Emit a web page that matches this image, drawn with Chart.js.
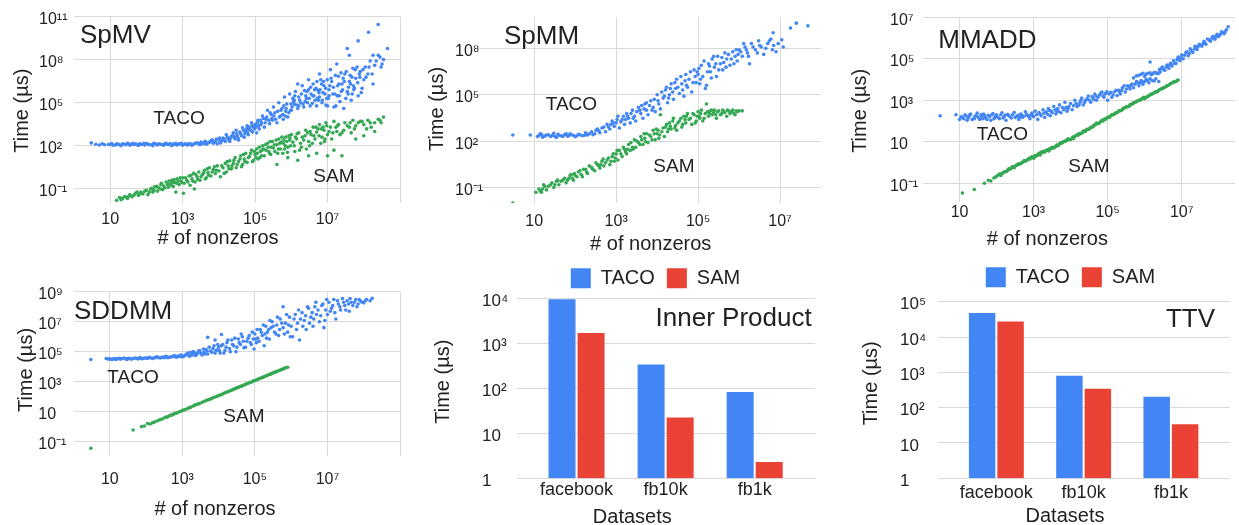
<!DOCTYPE html>
<html>
<head>
<meta charset="utf-8">
<title>TACO vs SAM runtimes</title>
<script src="https://cdn.jsdelivr.net/npm/chart.js@4.4.1/dist/chart.umd.min.js"></script>
<style>
  html, body { margin: 0; padding: 0; background: #fff; }
  #page { position: relative; width: 1239px; height: 525px; overflow: hidden; }
  #page canvas { position: absolute; }
</style>
</head>
<body>
<div id="page">
  <canvas id="spmv"></canvas>
  <canvas id="spmm"></canvas>
  <canvas id="mmadd"></canvas>
  <canvas id="sddmm"></canvas>
  <canvas id="inner"></canvas>
  <canvas id="ttv"></canvas>
</div>
<script>
const FONT = '"Liberation Sans", Arial, Helvetica, sans-serif';
const INK = '#222';
const BLUE = '#4285f4';
const GREEN = '#34a853';
const RED = '#ea4335';
const GRID = '#d9d9d9';

// ---- scatter data: [nonzeros, time in us] ----
const spmvTaco = [
  [3,160],[7,120],[10,130],[12,110],[15,140],[18,120],[20,100],[25,130],[30,150],[35,110],[45,125],[50,140],[60,105],[70,130],[90,115],[100,145],[120,120],[150,100],[180,135],[200,115],[250,130],[300,110],[350,150],[400,120],[500,100],[550,135],[700,115],[800,140],[1e3,110],[1.1e3,130],[1.3e3,120],[1.5e3,145],[1.8e3,110],[2e3,130],[2.5e3,160],[3e3,120],[3.5e3,140],[4e3,180],[4.5e3,130],[5e3,160],[6e3,220],[7e3,150],[8e3,200],[9e3,140],
  [4,130],[5,115],[6,140],[9,125],[11,145],[14,115],[17,130],[22,140],[27,120],[33,135],[38,125],[42,150],[55,120],[65,140],[75,125],[85,150],[110,135],[140,120],[160,150],[220,140],[270,120],[320,140],[380,130],[450,145],[600,125],[650,150],[750,130],[900,150],[1.2e3,140],[1.4e3,115],[1.7e3,135],[2.2e3,150],[2.8e3,140],[3.2e3,180],[3.8e3,150],[4.2e3,210],[5.5e3,180],[6.5e3,260],[7.5e3,190],[8.5e3,300],
  [1e4,250],[1.1e4,160],[1.3e4,350],[1.5e4,200],[1.6e4,600],[1.8e4,300],[2e4,200],[2.2e4,450],[2.5e4,800],[2.8e4,300],[3e4,1.2e3],[3.2e4,500],[3.5e4,250],[4e4,700],[4.5e4,1.8e3],[5e4,400],[5.5e4,1e3],[6e4,2.5e3],[6.5e4,600],[7e4,1.5e3],[8e4,4e3],[8.5e4,900],[9e4,2e3],
  [1.05e4,350],[1.2e4,220],[1.4e4,280],[1.7e4,400],[1.9e4,250],[2.1e4,330],[2.4e4,550],[2.7e4,400],[3.1e4,700],[3.4e4,350],[3.8e4,900],[4.2e4,500],[4.8e4,1.2e3],[5.2e4,700],[5.8e4,1.5e3],[6.2e4,900],[6.8e4,2e3],[7.5e4,1.2e3],[8.2e4,2.5e3],[9.5e4,1.5e3],
  [1e5,3e3],[1.1e5,800],[1.2e5,6e3],[1.3e5,1.5e3],[1.5e5,4e3],[1.6e5,1.2e4],[1.8e5,2e3],[2e5,7e3],[2.2e5,3e4],[2.5e5,3.5e3],[2.8e5,1.5e4],[3e5,6e3],[3.2e5,5e4],[3.5e5,2e4],[4e5,4e3],[4.5e5,1e5],[5e5,1.2e4],[5.5e5,4e4],[6e5,7e3],[6.5e5,2.5e5],[7e5,2.5e4],[7.5e5,8e4],[8e5,1e4],[9e5,4e5],[9.5e5,3e4],
  [1.05e5,2e3],[1.15e5,4e3],[1.25e5,2.5e3],[1.4e5,6e3],[1.45e5,3e3],[1.7e5,8e3],[1.9e5,4e3],[2.1e5,1e4],[2.4e5,6e3],[2.6e5,2e4],[2.9e5,8e3],[3.3e5,1.2e4],[3.7e5,7e3],[4.2e5,2.5e4],[4.7e5,1e4],[5.2e5,3e4],[5.8e5,1.5e4],[6.2e5,6e4],[6.8e5,1.2e4],[7.2e5,4e4],[8.5e5,2e4],[9.8e5,8e4],
  [1e6,3e4],[1.1e6,2e5],[1.2e6,8e4],[1.3e6,6e5],[1.5e6,4e4],[1.6e6,2.5e5],[1.8e6,1e5],[2e6,1.5e6],[2.2e6,5e4],[2.5e6,3e5],[2.8e6,1e5],[3e6,8e5],[3.3e6,6e4],[3.5e6,4e5],[4e6,2e6],[4.5e6,1.5e5],[5e6,6e4],[5.5e6,7e5],[6e6,2.5e5],[6.5e6,4e6],[7e6,1e5],[7.5e6,5e5],[8e6,1.5e6],[9e6,7e4],[1.5e6,2e6],[3e6,4e6],[6e6,1e7],
  [1.05e6,5e4],[1.15e6,1.2e5],[1.25e6,3e5],[1.4e6,7e4],[1.7e6,1.5e5],[1.9e6,4e5],[2.1e6,8e4],[2.4e6,1.2e5],[2.7e6,6e5],[3.1e6,2e5],[3.8e6,9e4],[4.2e6,3e5],[4.8e6,1e6],[5.2e6,2e5],[5.8e6,5e5],[6.8e6,2e6],[7.2e6,1.5e5],[8.5e6,4e5],[9.5e6,2e5],
  [1.2e6,1.5e5],[1.6e6,6e4],[2.3e6,7e5],[2.6e6,2e5],[3.4e6,1.2e6],[3.9e6,3e5],[4.4e6,8e5],[5.1e6,3e6],[5.6e6,1.5e5],[6.2e6,8e5],[7.8e6,3e6],[8.8e6,1e6],[9.8e6,4e6],
  [1e7,6e4],[1.1e7,8e5],[1.2e7,2e7],[1.3e7,3e6],[1.5e7,5e4],[1.6e7,4e5],[1.8e7,5e7],[2e7,7e6],[2.2e7,1.2e5],[2.5e7,2e6],[2.8e7,4e4],[3e7,1e7],[3.5e7,6e5],[4e7,3e6],[4.5e7,1.5e5],[5e7,2.5e7],[5.5e7,1e6],[6e7,5e6],[7e7,3e5],[8e7,1.5e7],[9e7,1e6],
  [1.05e7,2e5],[1.15e7,1.5e6],[1.4e7,4e5],[1.7e7,6e4],[1.9e7,1.5e6],[2.1e7,3e5],[2.4e7,6e5],[2.7e7,5e6],[3.2e7,2e5],[3.8e7,1.2e6],[4.2e7,8e6],[4.8e7,4e5],[5.2e7,1.5e6],[6.5e7,3e7],[7.5e7,1e7],[8.5e7,5e5],
  [1.1e7,3e5],[1.25e7,5e6],[1.45e7,1.2e6],[1.65e7,8e6],[1.85e7,3e5],[2.05e7,2e6],[2.35e7,1.2e7],[2.6e7,8e5],[2.9e7,3e6],[3.3e7,1.5e7],[3.7e7,4e5],[4.3e7,2e6],[4.7e7,6e6],[5.3e7,8e5],[5.8e7,2e7],[6.8e7,2.5e6],[7.8e7,6e6],[9.5e7,2e7],
  [1e8,4e6],[1.1e8,3e7],[1.3e8,1e7],[1.5e8,8e7],[1.8e8,2e6],[2e8,4e7],[2.5e8,2e8],[3e8,3e7],[3.5e8,1e8],[4.5e8,6e8],
  [1.15e8,6e6],[1.4e8,3e7],[1.7e8,1e7],[2.2e8,8e7],[2.8e8,1.5e8],[3.2e8,5e7],
  [2.5e8,2.8e10],[1.35e8,8e9],[7e7,2e9],[3.5e7,6e8],[4e7,2e8],[1.8e8,2e8]
];
const spmvSam = [
  [15,1.6e-2],[18,2.5e-2],[20,1.8e-2],[25,3e-2],[30,2.2e-2],[35,4e-2],[40,2.8e-2],[50,5e-2],[60,3.5e-2],[70,6e-2],[80,4.5e-2],[100,8e-2],[110,4e-2],[130,1e-1],[150,6e-2],[170,1.4e-1],[200,7e-2],[220,1.2e-1],[250,2e-1],[280,9e-2],[300,1.6e-1],[350,3e-1],[400,1.3e-1],[450,2.2e-1],[500,4e-1],[550,1.5e-1],[600,2.8e-1],[650,6e-2],[700,5e-1],[800,2e-1],[900,3.5e-1],
  [22,2.2e-2],[28,2.6e-2],[33,3.2e-2],[45,3.6e-2],[55,6e-2],[65,4.5e-2],[90,7e-2],[120,6e-2],[140,1.1e-1],[160,8e-2],[190,1.5e-1],[240,1e-1],[260,2.5e-1],[320,1.2e-1],[380,2e-1],[420,3.5e-1],[480,1.8e-1],[520,2.8e-1],[580,4.5e-1],[680,2.5e-1],[750,3.5e-1],[850,6e-1],[950,2.8e-1],
  [1e3,6e-1],[1.05e3,5e-2],[1.1e3,2.5e-1],[1.3e3,4e-1],[1.5e3,8e-1],[1.6e3,1.8e-1],[1.8e3,5e-1],[2e3,1.2],[2.1e3,1e-1],[2.2e3,3e-1],[2.5e3,7e-1],[2.8e3,1.5],[3e3,4e-1],[3.5e3,1],[4e3,2],[4.5e3,6e-1],[5e3,1.4],[5.5e3,3],[6e3,8e-1],[7e3,2.2],[8e3,1.2],[9e3,4],
  [1.2e3,6e-1],[1.4e3,3e-1],[1.7e3,9e-1],[1.9e3,3.5e-1],[2.3e3,1],[2.6e3,4.5e-1],[3.2e3,7e-1],[3.8e3,1.3],[4.2e3,5e-1],[4.8e3,2.5],[5.2e3,9e-1],[6.5e3,1.5],[7.5e3,3.5],[8.5e3,2],
  [1e4,1.8],[1.1e4,7e-1],[1.3e4,3],[1.5e4,6],[1.6e4,1.5],[1.8e4,4],[2e4,9],[2.2e4,2.5],[2.5e4,6],[2.8e4,15],[3e4,3],[3.5e4,8],[4e4,20],[4.5e4,5],[5e4,12],[5.5e4,30],[6e4,7],[7e4,18],[8e4,50],[9e4,10],
  [1.2e4,4],[1.4e4,1.2],[1.7e4,8],[1.9e4,2.5],[2.3e4,4],[2.6e4,10],[3.2e4,5],[3.8e4,12],[4.2e4,3.5],[4.8e4,25],[5.2e4,8],[6.5e4,15],[7.5e4,30],[8.5e4,8],[9.5e4,40],
  [1e5,25],[1.1e5,60],[1.2e5,12],[1.4e5,40],[1.6e5,100],[1.8e5,20],[2e5,50],[2.2e5,150],[2.5e5,30],[2.8e5,80],[3e5,200],[3.5e5,40],[4e5,120],[4e5,5],[4.5e5,300],[5e5,60],[6e5,150],[7e5,400],[8e5,80],[8e5,15],[9e5,250],
  [1.05e5,15],[1.3e5,80],[1.5e5,20],[1.7e5,60],[1.9e5,120],[2.4e5,40],[2.6e5,200],[3.2e5,70],[3.8e5,250],[4.2e5,30],[4.8e5,150],[5.5e5,400],[6.5e5,60],[7.5e5,200],[8.5e5,500],[9.5e5,100],
  [1.15e5,30],[1.35e5,15],[1.55e5,50],[2.3e5,80],[2.7e5,25],[3.4e5,120],[4.4e5,60],[5.2e5,180],[5.8e5,30],[6.2e5,250],[6.8e5,100],[7.8e5,35],[9.2e5,350],
  [1e6,600],[1.2e6,100],[1.4e6,300],[1.5e6,10],[1.6e6,800],[1.8e6,150],[2e6,400],[2.5e6,1.2e3],[3e6,200],[3e6,20],[3.5e6,600],[4e6,2e3],[4.5e6,300],[5e6,900],[5e6,30],[6e6,3e3],[7e6,400],[8e6,1.2e3],[9e6,4e3],
  [1.3e6,400],[1.7e6,50],[2.2e6,250],[2.8e6,800],[3.2e6,100],[4.2e6,500],[5.5e6,1.5e3],[6.5e6,150],[7.5e6,2e3],[8.5e6,300],
  [1.1e6,180],[1.25e6,40],[1.45e6,700],[1.9e6,80],[2.4e6,500],[2.6e6,60],[3.3e6,1e3],[3.8e6,150],[4.8e6,2e3],[5.8e6,500],[6.8e6,1.5e3],[8.2e6,200],[9.5e6,2.5e3],
  [1e7,600],[1e7,20],[1.2e7,2e3],[1.5e7,5e3],[1.5e7,50],[1.8e7,1e3],[2e7,3e3],[2.5e7,800],[2.5e7,20],[3e7,4e3],[4e7,2e3],[5e7,6e3],[6e7,2.5e3],[6e7,300],[8e7,5e3],[1e8,3e3],[1e8,500],[1.3e8,6e3],[1.6e8,2e3],[2e8,4e3],[2e8,1e3],[2.5e8,7e3],[3e8,4e3],[3.5e8,1e4],
  [1.1e7,1e3],[1.3e7,300],[1.7e7,2e3],[2.2e7,600],[3.5e7,2.5e3],[4.5e7,800],[7e7,4e3],[1.2e8,1.5e3],
  [1.4e7,800],[1.9e7,2.5e3],[2.8e7,1.2e3],[4.2e7,4e3],[5.5e7,1.5e3],[9e7,5e3],[1.5e8,4e3],[2.8e8,6e3]
];
const spmmTaco = [
  [3,250],[8,250],[12,200],[14,300],[16,180],[20,250],[25,200],[30,320],[35,170],[40,240],[50,200],[60,300],[70,220],[80,260],[100,190],[120,280],[150,220],[180,350],[200,250],[250,400],[300,300],
  [13,230],[15,280],[18,210],[22,260],[28,240],[32,200],[38,280],[45,220],[55,260],[65,210],[75,300],[90,240],[110,220],[130,260],[170,240],[220,300],[270,260],
  [350,600],[400,350],[500,800],[550,400],[600,1.2e3],[700,600],[800,2e3],[900,900],[1e3,1.5e3],[1.1e3,4e3],[1.2e3,700],[1.4e3,2.5e3],[1.6e3,1.2e3],[1.8e3,6e3],[2e3,3e3],[2.2e3,1.5e3],[2.5e3,1e4],[2.8e3,4e3],[3e3,2e3],[3.5e3,1.5e4],[4e3,6e3],[4.5e3,3e3],[5e3,2.5e4],[5.5e3,1e4],[6e3,5e3],[7e3,4e4],[8e3,1.5e4],[9e3,8e3],
  [320,500],[380,450],[450,700],[650,800],[750,1.2e3],[850,1.5e3],[1.05e3,2.5e3],[1.3e3,1.8e3],[1.5e3,4e3],[1.7e3,2.5e3],[1.9e3,4e3],[2.3e3,6e3],[2.6e3,3e3],[3.2e3,8e3],[3.8e3,1e4],[4.2e3,2e4],[4.8e3,1.2e4],[5.5e3,3e4],[6.5e3,2e4],[7.5e3,1e4],[8.5e3,5e4],
  [1e4,1e5],[1.1e4,2.5e4],[1.2e4,1.2e4],[1.4e4,6e4],[1.6e4,2e5],[1.8e4,3e4],[2e4,1e5],[2.2e4,5e5],[2.5e4,5e4],[2.8e4,2.5e5],[3e4,1e6],[3.5e4,1.2e5],[4e4,5e5],[4.5e4,8e4],[5e4,2e6],[5.5e4,3e5],[6e4,1e6],[7e4,1.5e5],[8e4,4e6],[9e4,6e5],
  [1.05e4,4e4],[1.3e4,1.5e5],[1.5e4,8e4],[1.7e4,3e5],[1.9e4,6e4],[2.1e4,2.5e5],[2.4e4,1.5e5],[2.7e4,6e5],[3.2e4,3e5],[3.8e4,1.5e6],[4.2e4,2e5],[4.8e4,8e5],[5.2e4,4e5],[6.5e4,3e6],[7.5e4,6e5],[8.5e4,1.5e6],[9.5e4,3e6],
  [1e5,2e6],[1.1e5,5e5],[1.2e5,8e6],[1.3e5,1.5e6],[1.5e5,2.5e5],[1.6e5,4e5],[1.8e5,1e7],[2e5,3e6],[2.2e5,2e7],[2.5e5,6e6],[2.8e5,1.5e6],[3e5,3e7],[3.5e5,1e7],[4e5,4e6],[4.5e5,5e7],[5e5,2e7],[6e5,8e6],[7e5,6e7],[8e5,3e7],[9e5,1.5e7],
  [1.05e5,5e6],[1.15e5,1e6],[1.4e5,1.5e7],[1.7e5,3e6],[1.9e5,7e6],[2.1e5,1.2e6],[2.4e5,3e7],[2.7e5,1e7],[3.2e5,4e6],[3.8e5,2.5e7],[4.2e5,1.2e7],[4.8e5,6e6],[5.5e5,4e7],[6.5e5,2e7],[7.5e5,1e7],[8.5e5,8e7],[9.5e5,4e7],
  [1e6,8e7],[1.2e6,3e7],[1.4e6,1.2e8],[1.6e6,5e7],[1.8e6,1e7],[2e6,2e8],[2.5e6,8e7],[3e6,3e8],[3.5e6,1.2e8],[4e6,4e7],[5e6,2e8],[6e6,4e8],[7e6,1.5e8],[8e6,6e7],
  [1.1e6,6e7],[1.3e6,2e8],[1.5e6,8e7],[1.7e6,3e7],[2.2e6,1.2e8],[2.8e6,5e7],[3.2e6,1.5e8],[4.5e6,1e8],[5.5e6,3e8],[6.5e6,8e7],[9e6,2e8],[1.2e7,1.2e8],
  [6.8e6,1e9],[1.1e7,3.5e8],[1.8e7,2e9],[2.5e7,4.2e9],[4.8e7,2.8e9]
];
const spmmSam = [
  [3,1e-2],[11,5e-2],[14,6e-2],[16,8e-2],[18,1.2e-1],[20,7e-2],[25,1.5e-1],[30,1e-1],[35,2.5e-1],[40,1.5e-1],[50,3e-1],[60,2e-1],[70,4e-1],[80,7e-1],[90,3e-1],[100,6e-1],[120,1],[150,5e-1],[180,1.5],[200,8e-1],[250,2],[300,1.2],[350,3],[400,1.8],
  [13,8e-2],[15,5e-2],[17,1.5e-1],[22,1.2e-1],[27,2e-1],[32,1.5e-1],[37,3e-1],[45,2.5e-1],[55,4e-1],[65,3e-1],[75,6e-1],[85,4e-1],[95,8e-1],[110,5e-1],[130,1.2],[140,7e-1],[160,1.5],[190,1],[220,2.5],[270,1.5],[320,4],[380,2.5],
  [450,5],[500,2.5],[600,6],[700,3],[800,10],[900,5],[1e3,15],[1.1e3,6],[1.2e3,25],[1.4e3,10],[1.6e3,30],[1.8e3,15],[2e3,60],[2.2e3,25],[2.5e3,40],[2.8e3,120],[3e3,40],[3.5e3,80],[4e3,200],[4.5e3,60],[5e3,150],[5.5e3,300],[6e3,80],[7e3,200],[8e3,500],[9e3,120],
  [420,3],[480,7],[550,4],[650,8],[750,5],[850,15],[950,8],[1.05e3,25],[1.3e3,15],[1.5e3,40],[1.7e3,20],[1.9e3,30],[2.3e3,80],[2.6e3,30],[3.2e3,100],[3.8e3,60],[4.2e3,120],[4.8e3,300],[5.2e3,90],[6.5e3,250],[7.5e3,120],[8.5e3,300],[9.5e3,600],
  [1e4,300],[1.1e4,150],[1.2e4,5e3],[1.3e4,400],[1.5e4,200],[1.6e4,800],[1.8e4,400],[2e4,1.5e3],[2.2e4,600],[2.5e4,3e3],[2.8e4,1e3],[3e4,500],[3.5e4,2e3],[4e4,800],[4.5e4,4e3],[5e4,1.5e3],[5.5e4,6e3],[6e4,2.5e3],[7e4,1.2e3],[8e4,5e3],[9e4,2e3],
  [1.05e4,500],[1.15e4,250],[1.4e4,700],[1.7e4,1.2e3],[1.9e4,600],[2.1e4,900],[2.4e4,2e3],[2.7e4,700],[3.2e4,1.5e3],[3.8e4,3e3],[4.2e4,1.2e3],[4.8e4,2.5e3],[5.2e4,4e3],[6.5e4,3e3],[7.5e4,6e3],[8.5e4,1.5e3],[9.5e4,4e3],
  [1e5,8e3],[1.1e5,3e3],[1.2e5,1e4],[1.3e5,2e3],[1.5e5,6e3],[1.6e5,2.5e4],[1.8e5,4e3],[2e5,9e3],[2.2e5,5e3],[2.5e5,1e4],[2.8e5,3e3],[3e5,8e3],[3.5e5,5e3],[4e5,1e4],[4.5e5,7e3],[5e5,4e3],[5.5e5,9e3],[6e5,6e3],[7e5,1e4],[8e5,5e3],[9e5,8e3],[1e6,9e3],[1.2e6,9e3],
  [1.05e5,4e3],[1.15e5,6e3],[1.4e5,3e3],[1.7e5,8e3],[1.9e5,6e3],[2.1e5,1e4],[2.4e5,7e3],[2.7e5,5e3],[3.2e5,9e3],[3.8e5,6e3],[4.2e5,8e3],[5.2e5,1e4],[6.5e5,8e3],[7.5e5,6e3],[8.5e5,9e3]
];
const mmaddTaco = [
  [3,180],[8,200],[10,120],[12,150],[14,200],[16,110],[18,160],[20,220],[25,130],[28,180],[30,240],[35,120],[40,170],[45,220],[50,140],[60,190],[70,110],[80,230],[90,150],[100,200],[120,130],[140,250],[160,160],[180,110],[200,210],[250,140],[300,260],[350,170],[400,120],[450,220],[500,150],[600,280],[700,180],[800,130],[900,240],
  [11,160],[13,130],[15,180],[17,140],[19,200],[22,120],[26,170],[32,150],[38,200],[42,130],[48,180],[55,120],[65,160],[75,200],[85,130],[95,170],[110,150],[130,200],[150,140],[170,190],[220,170],[270,200],[320,150],[380,190],[420,160],[480,190],[550,170],[650,210],[750,160],[850,200],[950,180],
  [1e3,160],[1.1e3,300],[1.3e3,120],[1.5e3,220],[1.8e3,350],[2e3,150],[2.2e3,280],[2.5e3,400],[2.8e3,180],[3e3,300],[3.5e3,500],[4e3,220],[4.5e3,400],[5e3,600],[5.5e3,250],[6e3,450],[7e3,800],[8e3,300],[9e3,500],
  [1.2e3,200],[1.4e3,260],[1.6e3,180],[1.9e3,240],[2.4e3,210],[2.7e3,320],[3.2e3,250],[3.8e3,350],[4.2e3,300],[4.8e3,280],[6.5e3,350],[7.5e3,450],[8.5e3,400],
  [1e4,700],[1.1e4,350],[1.3e4,1e3],[1.5e4,500],[1.8e4,800],[2e4,1.3e3],[2.2e4,600],[2.5e4,1e3],[3e4,1.6e3],[3.5e4,800],[4e4,1.3e3],[4.5e4,2e3],[5e4,1e3],[6e4,1.8e3],[7e4,2.5e3],[8e4,1.4e3],[9e4,2.2e3],
  [1.2e4,550],[1.4e4,700],[1.7e4,600],[1.9e4,1e3],[2.4e4,800],[2.8e4,1.2e3],[3.2e4,1e3],[3.8e4,1.5e3],[4.2e4,1.1e3],[4.8e4,1.6e3],[5.5e4,1.4e3],[6.5e4,2.2e3],[7.5e4,1.6e3],[8.5e4,2e3],[9.5e4,2.6e3],
  [1e5,1e3],[1.1e5,2e3],[1.3e5,1.4e3],[1.5e5,2.5e3],[1.8e5,1.7e3],[2e5,3e3],[2.2e5,2e3],[2.5e5,4e3],[3e5,2.5e3],[3.5e5,5e3],[4e5,3.5e3],[4.5e5,6e3],[5e5,4e3],[6e5,8e3],[7e5,5e3],[8e5,9e3],[9e5,6e3],[1.1e6,1e4],[1.3e6,7e3],[1.6e6,9e3],[2e6,1.1e4],[2.4e6,8e3],
  [1.2e5,2.4e3],[1.4e5,1.8e3],[1.7e5,3e3],[2.1e5,2.5e3],[2.4e5,3e3],[2.8e5,5e3],[3.2e5,3.5e3],[3.8e5,4.5e3],[4.2e5,5e3],[5.5e5,6e3],[6.5e5,7e3],[7.5e5,7e3],[8.5e5,7.5e3],[1e6,8e3],[1.2e6,9e3],[1.4e6,1.1e4],[1.8e6,8.5e3],
  [5e5,1.2e4],[6e5,1.5e4],[8e5,1.8e4],[1e6,1.4e4],[1.2e6,2e4],[1.5e6,1.7e4],[1.8e6,2.2e4],[2.2e6,1.9e4],[2.6e6,2.3e4],[1.4e6,7e4],
  [7e5,1.6e4],[9e5,2e4],[1.1e6,1.8e4],[1.4e6,2.1e4],[1.7e6,1.9e4],[2e6,2.2e4],[2.4e6,2e4],
  [2.5e6,3e4],[3e6,4e4],[3.5e6,2.8e4],[4e6,5e4],[4.5e6,3.5e4],[5e6,6e4],[5.5e6,4.5e4],[6e6,8e4],[7e6,6e4],[8e6,1.2e5],[9e6,8e4],
  [2.8e6,3.5e4],[3.2e6,3e4],[3.8e6,4e4],[4.2e6,4.2e4],[4.8e6,5e4],[5.2e6,5.5e4],[6.5e6,6e4],[7.5e6,9e4],[8.5e6,1e5],[9.5e6,1.1e5],
  [1e7,1.5e5],[1.1e7,1e5],[1.3e7,2e5],[1.5e7,1.4e5],[1.7e7,3e5],[2e7,2e5],[2.3e7,4e5],[2.6e7,2.8e5],[3e7,5e5],
  [1.2e7,1.5e5],[1.4e7,2.2e5],[1.6e7,1.8e5],[1.8e7,2.5e5],[2.2e7,3e5],[2.5e7,3.5e5],[2.8e7,4e5],[3.2e7,4.5e5],[3.8e7,5.5e5],[4.2e7,6e5],[5.5e7,8e5],[6.5e7,1e6],[7.5e7,9e5],[8.5e7,1.2e6],[1.1e8,1.5e6],[1.3e8,1.8e6],[1.5e8,2e6],
  [3.5e7,4e5],[4e7,7e5],[4.5e7,5e5],[5e7,9e5],[6e7,7e5],[7e7,1.2e6],[8e7,9e5],[9e7,1.5e6],[1e8,1.2e6],[1.2e8,2e6],[1.4e8,1.6e6],[1.6e8,2.5e6],[1.8e8,3.5e6]
];
const mmaddSam = [
  [12,3.4e-2],[25,5e-2],[47,1e-1],[70,1.3e-1],[85,1.8e-1],[100,2.2e-1],[115,2.6e-1],[130,2.4e-1],[150,3.2e-1],[175,3.6e-1],[200,4.4e-1],[230,4.8e-1],[260,6e-1],[300,5.6e-1],[350,7.5e-1],[400,8e-1],[460,9e-1],[520,1.1],[600,1.15],[700,1.4],[800,1.5],[900,1.9],
  [60,1.4e-1],[95,2e-1],[120,2.8e-1],[140,3e-1],[165,3.6e-1],[190,3.8e-1],[215,5e-1],[245,5.2e-1],[280,6.5e-1],[330,7e-1],[380,8.5e-1],[430,9e-1],[490,1],[560,1.25],[650,1.3],[750,1.6],[850,1.7],[950,1.8],
  [1e3,1.6],[1.15e3,2],[1.3e3,2.4],[1.5e3,2.3],[1.7e3,3],[2e3,3.2],[2.3e3,3.8],[2.6e3,3.6],[3e3,4.6],[3.5e3,5],[4e3,6],[4.5e3,6.5],[5e3,8],[5.7e3,8.5],[6.5e3,10],[7.5e3,11],[8.5e3,14],
  [1.1e3,2.2],[1.25e3,2.2],[1.4e3,2.8],[1.6e3,3.2],[1.85e3,3.5],[2.15e3,3.8],[2.45e3,4.2],[2.8e3,4.8],[3.2e3,5.5],[3.7e3,5.5],[4.2e3,7],[4.8e3,7],[5.4e3,9],[6e3,9.5],[7e3,11],[8e3,12],[9e3,13],
  [1e4,13],[1.15e4,17],[1.3e4,18],[1.5e4,22],[1.7e4,25],[2e4,26],[2.3e4,34],[2.6e4,36],[3e4,40],[3.5e4,50],[4e4,55],[4.5e4,65],[5e4,80],[6e4,80],[7e4,110],[8e4,120],[9e4,130],
  [1.1e4,15],[1.2e4,14],[1.4e4,20],[1.6e4,21],[1.8e4,24],[2.1e4,30],[2.5e4,32],[2.8e4,40],[3.2e4,42],[3.8e4,50],[4.2e4,60],[4.8e4,70],[5.5e4,75],[6.5e4,95],[7.5e4,100],[8.5e4,120],[9.5e4,140],
  [1e5,150],[1.15e5,160],[1.3e5,200],[1.5e5,220],[1.7e5,260],[2e5,300],[2.3e5,320],[2.6e5,400],[3e5,450],[3.5e5,500],[4e5,600],[4.5e5,650],[5e5,750],[6e5,850],[7e5,1e3],[8e5,1.1e3],[9e5,1.3e3],
  [1.1e5,150],[1.2e5,180],[1.4e5,200],[1.6e5,230],[1.8e5,250],[2.1e5,320],[2.5e5,350],[2.8e5,420],[3.2e5,480],[3.8e5,520],[4.2e5,620],[4.8e5,700],[5.5e5,800],[6.5e5,950],[7.5e5,1e3],[8.5e5,1.2e3],[9.5e5,1.4e3],
  [1e6,1.2e3],[1.2e6,1.5e3],[1.4e6,1.8e3],[1.6e6,2e3],[1.9e6,2.4e3],[2.2e6,2.6e3],[2.5e6,3.2e3],[3e6,3.6e3],[3.5e6,4.2e3],[4e6,5e3],[4.5e6,5.5e3],[5e6,6.5e3],[6e6,7.5e3],[7e6,8e3],[8e6,9.5e3],
  [1.1e6,1.4e3],[1.3e6,1.7e3],[1.5e6,2e3],[1.7e6,2.2e3],[2e6,2.6e3],[2.4e6,3e3],[2.8e6,3.6e3],[3.2e6,4e3],[3.8e6,4.6e3],[4.2e6,5.2e3],[5.5e6,6.8e3],[6.5e6,7.8e3],[7.5e6,9e3]
];
const sddmmTaco = [
  [3,3e4],[8,3.5e4],[11,3e4],[13,3.3e4],[15,3e4],[18,3.6e4],[20,3.2e4],[25,3.8e4],[30,3e4],[35,3.5e4],[40,3.2e4],[50,3.8e4],[60,3.3e4],[70,4e4],[80,3.4e4],[100,3.7e4],[120,4.2e4],[150,3.5e4],[180,4e4],[200,4.5e4],[250,3.8e4],[300,4.3e4],[350,5e4],[400,4e4],[500,4.6e4],[600,5.5e4],[700,4.2e4],[800,5e4],[900,6e4],[1e3,4.5e4],
  [9,3.2e4],[10,3.4e4],[12,3.2e4],[14,3.5e4],[16,3.3e4],[19,3.4e4],[22,3.5e4],[28,3.3e4],[32,3.6e4],[38,3.4e4],[45,3.5e4],[55,3.6e4],[65,3.7e4],[75,3.5e4],[90,3.8e4],[110,3.5e4],[130,4e4],[160,3.8e4],[220,4e4],[270,4.2e4],[320,4e4],[380,4.5e4],[450,4.2e4],[550,4.8e4],[650,4.5e4],[750,5.2e4],[850,4.8e4],[950,5.5e4],
  [1.2e3,6e4],[1.4e3,8e4],[1.6e3,5e4],[1.8e3,7e4],[2e3,1e5],[2.3e3,5.5e4],[2.6e3,8e4],[3e3,1.2e5],[3.5e3,6e4],[4e3,9e4],[4.5e3,1.4e5],[5e3,7e4],[6e3,1.1e5],[7e3,1.6e5],[8e3,8e4],[9e3,1.3e5],[5e3,9e5],[1.2e4,1.4e6],[8e3,6e5],
  [1.1e3,5e4],[1.3e3,6.5e4],[1.5e3,5.5e4],[1.7e3,9e4],[1.9e3,6e4],[2.2e3,8e4],[2.5e3,6.5e4],[2.8e3,1.1e5],[3.2e3,8e4],[3.8e3,1.5e5],[4.2e3,7e4],[4.8e3,1.1e5],[5.5e3,2e5],[6.5e3,9e4],[7.5e3,2.5e5],[8.5e3,1.2e5],[9.5e3,3e5],
  [1e4,2e5],[1.1e4,8e4],[1.3e4,3e5],[1.5e4,1.2e5],[1.7e4,4e5],[2e4,1.6e5],[2.3e4,6e5],[2.6e4,2.5e5],[3e4,1e5],[3.5e4,7e5],[4e4,3e5],[4.5e4,1e6],[5e4,1.8e5],[6e4,5e5],[7e4,1.2e6],[8e4,3e5],[9e4,7e5],
  [1.05e4,1.2e5],[1.2e4,2.5e5],[1.4e4,8e4],[1.6e4,2e5],[1.8e4,6e5],[2.1e4,1e5],[2.4e4,3e5],[2.8e4,8e5],[3.2e4,2e5],[3.7e4,4e5],[4.2e4,1.5e6],[4.8e4,5e5],[5.5e4,2e5],[6.5e4,8e5],[7.5e4,4e5],[8.5e4,2e6],[9.5e4,1.5e5],
  [1e5,1.5e6],[1.1e5,4e5],[1.2e5,8e5],[1.4e5,3e6],[1.6e5,1.2e6],[1.8e5,2.5e5],[2e5,5e6],[2.2e5,2e6],[2.5e5,7e5],[2.8e5,4e6],[3e5,1e7],[3.5e5,2e6],[4e5,6e6],[4.5e5,1.2e6],[5e5,1.5e7],[6e5,4e6],[7e5,8e6],[8e5,2e6],[9e5,2e7],[6e5,1e8],
  [1.05e5,7e5],[1.15e5,3e6],[1.3e5,5e5],[1.5e5,2e6],[1.7e5,6e6],[1.9e5,1.5e6],[2.1e5,8e5],[2.4e5,3e6],[2.6e5,1.2e7],[3.2e5,5e6],[3.8e5,1.5e6],[4.2e5,2e7],[4.8e5,3e6],[5.5e5,8e6],[6.5e5,1.5e6],[7.5e5,3e7],[8.5e5,6e6],[9.5e5,1e6],
  [1e6,5e6],[1.1e6,1e6],[1.3e6,3e7],[1.5e6,8e6],[1.7e6,6e5],[2e6,4e7],[2.3e6,1.2e7],[2.6e6,3e6],[3e6,8e7],[3.5e6,2e7],[4e6,5e6],[4.5e6,1e8],[5e6,3e7],[6e6,1e7],[7e6,1.2e8],[8e6,4e6],[9e6,6e7],
  [1.2e6,1.5e7],[1.4e6,3e6],[1.6e6,6e7],[1.8e6,1.5e7],[2.1e6,5e6],[2.5e6,2.5e7],[2.8e6,1e8],[3.2e6,8e6],[3.8e6,4e7],[4.2e6,1.5e7],[4.8e6,2e8],[5.5e6,6e7],[6.5e6,2.5e7],[7.5e6,1.5e8],[8.5e6,1.2e7],[9.5e6,3e8],
  [1e7,3e7],[1.1e7,2e8],[1.3e7,8e7],[1.5e7,3e8],[1.7e7,1.5e7],[2e7,1.5e8],[2.3e7,6e7],[2.6e7,3.5e8],[3e7,1.2e8],[3.5e7,2.5e8],[4e7,5e7],[4.5e7,2e8],[5e7,1.2e8],[6e7,3e8],[7e7,1.5e8],[8e7,2.5e8],[1e8,1.8e8],[1.2e8,3e8],[1.5e8,2.5e8],[1.7e8,3.6e8],
  [1.2e7,5e7],[1.4e7,1.2e8],[1.6e7,4e7],[1.9e7,2.5e8],[2.2e7,1e8],[2.8e7,2e8],[3.2e7,6e7],[3.8e7,1.5e8],[4.2e7,3.5e8],[5.5e7,2e8],[6.5e7,1e8],[7.5e7,3e8],[9e7,2e8],[1.1e8,2.5e8]
];
const sddmmSam = [
  [3,3.6e-2],[44,6e-1],[75,1],[90,1.1],[110,1.6],[130,1.5],[150,1.8],[170,2],[200,2.4],[230,2.8],[250,3],[280,3.2],[330,4],[360,4.3],[400,4.6],[450,5.5],[480,5.8],[520,6],[560,6.6],[600,7.2],[650,7.8],[700,8],[800,9.5],[900,10.5],
  [1e3,12],[1.1e3,13],[1.2e3,14],[1.4e3,16],[1.55e3,18],[1.7e3,20],[2e3,24],[2.2e3,27],[2.5e3,30],[2.8e3,33],[3e3,35],[3.5e3,42],[4e3,48],[4.5e3,55],[5e3,60],[5.5e3,65],[6e3,70],[6.5e3,78],[7e3,85],[8e3,95],[9e3,105],
  [1e4,120],[1.1e4,130],[1.2e4,140],[1.35e4,160],[1.5e4,180],[1.65e4,195],[1.8e4,210],[2e4,240],[2.2e4,260],[2.4e4,285],[2.6e4,310],[2.8e4,335],[3e4,360],[3.3e4,400],[3.6e4,430],[4e4,470],[4.3e4,500],[4.6e4,550],[5e4,600],[5.5e4,660],[6e4,720],[6.5e4,780],[7e4,840],[7.7e4,920],[8.5e4,1e3],[9e4,1.1e3],
  [1e5,1.2e3],[1.1e5,1.3e3],[1.2e5,1.45e3],[1.3e5,1.55e3],[1.4e5,1.7e3],[1.55e5,1.85e3],[1.7e5,2e3],[1.85e5,2.2e3],[2e5,2.4e3],[2.2e5,2.65e3],[2.4e5,2.9e3],[2.6e5,3.1e3],[2.8e5,3.3e3],[3e5,3.6e3],[3.3e5,4e3],[3.6e5,4.3e3],[4e5,4.7e3],[4.3e5,5.1e3],[4.7e5,5.6e3],[5e5,6e3],[5.5e5,6.5e3],[6e5,7.1e3],[6.5e5,7.8e3],[7e5,8.4e3],[8e5,9.2e3]
];

// ---- bar data ----
const datasetNames = ['facebook', 'fb10k', 'fb1k'];
const innerTaco = [9500, 340, 83];
const innerSam = [1700, 22.5, 2.3];
const ttvTaco = [48000, 805, 205];
const ttvSam = [27500, 345, 34];

// ---- ticks ----
const xTicksWide = [10, 1e3, 1e5, 1e7, 1e9];
const xLabelsWide = ['10', '10³', '10⁵', '10⁷', ''];
const xTicksNarrow = [10, 1e3, 1e5, 1e7];
const xLabelsNarrow = ['10', '10³', '10⁵', '10⁷'];
const spmvYTicks = [1e-1, 1e2, 1e5, 1e8, 1e11];
const spmvYLabels = ['10⁻¹', '10²', '10⁵', '10⁸', '10¹¹'];
const spmmYTicks = [1e-1, 1e2, 1e5, 1e8];
const spmmYLabels = ['10⁻¹', '10²', '10⁵', '10⁸'];
const mmaddYTicks = [1e-1, 10, 1e3, 1e5, 1e7];
const mmaddYLabels = ['10⁻¹', '10', '10³', '10⁵', '10⁷'];
const sddmmYTicks = [1e-1, 10, 1e3, 1e5, 1e7, 1e9];
const sddmmYLabels = ['10⁻¹', '10', '10³', '10⁵', '10⁷', '10⁹'];
const innerYTicks = [1, 10, 100, 1e3, 1e4];
const innerYLabels = ['1', '10', '10²', '10³', '10⁴'];
const ttvYTicks = [1, 10, 100, 1e3, 1e4, 1e5];
const ttvYLabels = ['1', '10', '10²', '10³', '10⁴', '10⁵'];

const AXIS_H = 30;
const LEGEND_H = 42;
const DOT = 1.8;

// free text (titles, series names, axis titles), page coordinates
const notes = {
  id: 'notes',
  afterDraw(chart, args, opts) {
    const ctx = chart.ctx;
    (opts.items || []).forEach(n => {
      ctx.save();
      ctx.font = n.size + 'px ' + FONT;
      ctx.fillStyle = INK;
      ctx.textAlign = n.align || 'left';
      ctx.textBaseline = 'alphabetic';
      ctx.translate(n.x - opts.left, n.y - opts.top);
      if (n.up) ctx.rotate(-Math.PI / 2);
      ctx.fillText(n.text, 0, 0);
      ctx.restore();
    });
  }
};

function place(cv, box) {
  cv.width = box.w;
  cv.height = box.h;
  cv.style.left = box.left + 'px';
  cv.style.top = box.top + 'px';
}

function fixSize(size) {
  return s => {
    if (s.isHorizontal()) s.height = size; else s.width = size;
    s.paddingLeft = s.paddingRight = s.paddingTop = s.paddingBottom = 0;
  };
}

function logAxis(ax, fit, t) {
  return {
    type: 'logarithmic', min: ax.min, max: ax.max, bounds: 'data',
    afterBuildTicks: s => { s.ticks = ax.ticks.map(v => ({ value: v })); },
    afterFit: fit,
    border: { display: false },
    grid: { color: GRID, drawTicks: false },
    ticks: {
      autoSkip: false, maxRotation: 0, color: INK,
      font: { family: FONT, size: t.size },
      padding: t.padding || 0, mirror: !!t.mirror, labelOffset: t.labelOffset || 0,
      callback: (v, i) => ax.labels[i]
    }
  };
}

// y labels are mirrored so they are not clipped to the axis box; a negative
// padding pulls them back left of the plot, left aligned like the original
function yAxis(p, size, boxLeft) {
  return logAxis(p.y, fixSize(p.area.l - boxLeft), { size, mirror: true, padding: p.labelLeft - p.area.l, labelOffset: 3 });
}

function scatterPanel(p) {
  const cv = document.getElementById(p.id);
  const b = p.box, a = p.area;
  place(cv, b);
  return new Chart(cv, {
    type: 'scatter',
    data: {
      datasets: [
        { label: 'TACO', data: p.taco.map(([x, y]) => ({ x, y })), backgroundColor: BLUE, pointRadius: DOT, pointBorderWidth: 0 },
        { label: 'SAM', data: p.sam.map(([x, y]) => ({ x, y })), backgroundColor: GREEN, pointRadius: DOT, pointBorderWidth: 0 }
      ]
    },
    options: {
      responsive: false, animation: false, events: [],
      layout: { padding: { left: p.labelLeft - b.left, top: a.t - b.top, right: b.left + b.w - a.r, bottom: b.top + b.h - a.b - AXIS_H } },
      plugins: { legend: { display: false }, tooltip: { enabled: false }, notes: { left: b.left, top: b.top, items: p.notes } },
      scales: {
        x: logAxis(p.x, fixSize(AXIS_H), { size: 16, padding: p.xPad }),
        y: yAxis(p, 16, p.labelLeft)
      }
    },
    plugins: [notes]
  });
}

function barPanel(p) {
  const cv = document.getElementById(p.id);
  const b = p.box, a = p.area;
  place(cv, b);
  const bars = (label, vals, color) => ({
    label, backgroundColor: color, borderWidth: 0,
    data: vals.map((y, i) => ({ x: i, y })),
    categoryPercentage: 0.652, barPercentage: 0.93
  });
  return new Chart(cv, {
    type: 'bar',
    data: { datasets: [bars('TACO', p.taco, BLUE), bars('SAM', p.sam, RED)] },
    options: {
      responsive: false, animation: false, events: [],
      // the legend is centred between legendLeft and the plot's right edge
      layout: { padding: { left: p.legendLeft - b.left, top: a.t - LEGEND_H - b.top, right: b.left + b.w - a.r, bottom: b.top + b.h - a.b - AXIS_H } },
      plugins: {
        legend: { labels: { boxWidth: 20, boxHeight: 20, padding: 12, color: INK, font: { family: FONT, size: 20 } } },
        tooltip: { enabled: false },
        notes: { left: b.left, top: b.top, items: p.notes }
      },
      scales: {
        x: {
          type: 'linear', min: -0.665, max: 2.677, offset: false,
          afterBuildTicks: s => { s.ticks = datasetNames.map((_, i) => ({ value: i })); },
          afterFit: fixSize(AXIS_H),
          grid: { display: false, drawTicks: false }, border: { display: false },
          ticks: { autoSkip: false, maxRotation: 0, color: INK, padding: p.xPad, font: { family: FONT, size: 18 }, callback: (v, i) => datasetNames[i] }
        },
        y: yAxis(p, 17, p.legendLeft)
      }
    },
    plugins: [notes]
  });
}

const nz = '# of nonzeros', tm = 'Time (µs)';

scatterPanel({
  id: 'spmv', box: { left: 0, top: 0, w: 415, h: 262 }, area: { l: 74, r: 400, t: 16.5, b: 203.3 }, labelLeft: 39, xPad: 6.6,
  x: { min: 1, max: 1e9, ticks: xTicksWide, labels: xLabelsWide },
  y: { min: 0.01, max: 1e11, ticks: spmvYTicks, labels: spmvYLabels },
  taco: spmvTaco, sam: spmvSam,
  notes: [
    { text: 'SpMV', x: 80, y: 43.3, size: 26 },
    { text: 'TACO', x: 153.3, y: 124, size: 19 },
    { text: 'SAM', x: 313.3, y: 181.7, size: 19 },
    { text: nz, x: 218, y: 244.3, size: 20, align: 'center' },
    { text: tm, x: 28.3, y: 110.7, size: 20, align: 'center', up: true }
  ]
});

scatterPanel({
  id: 'spmm', box: { left: 420, top: 0, w: 415, h: 262 }, area: { l: 473, r: 821, t: 17.3, b: 203 }, labelLeft: 455, xPad: 8.7,
  x: { min: 0.32, max: 1e8, ticks: xTicksNarrow, labels: xLabelsNarrow },
  y: { min: 0.01, max: 1e10, ticks: spmmYTicks, labels: spmmYLabels },
  taco: spmmTaco, sam: spmmSam,
  notes: [
    { text: 'SpMM', x: 504, y: 44, size: 26 },
    { text: 'TACO', x: 545.7, y: 110, size: 19 },
    { text: 'SAM', x: 653.3, y: 171.7, size: 19 },
    { text: nz, x: 650.7, y: 250, size: 20, align: 'center' },
    { text: tm, x: 443.3, y: 109, size: 20, align: 'center', up: true }
  ]
});

scatterPanel({
  id: 'mmadd', box: { left: 840, top: 0, w: 399, h: 262 }, area: { l: 922.5, r: 1239, t: 17.3, b: 201.7 }, labelLeft: 890, xPad: 1.5,
  x: { min: 1, max: 2.75e8, ticks: xTicksNarrow, labels: xLabelsNarrow },
  y: { min: 0.013, max: 1e7, ticks: mmaddYTicks, labels: mmaddYLabels },
  taco: mmaddTaco, sam: mmaddSam,
  notes: [
    { text: 'MMADD', x: 938.3, y: 48.3, size: 26 },
    { text: 'TACO', x: 976.7, y: 140, size: 19 },
    { text: 'SAM', x: 1068.3, y: 171.7, size: 19 },
    { text: nz, x: 1047.3, y: 245, size: 20, align: 'center' },
    { text: tm, x: 865.7, y: 110.8, size: 20, align: 'center', up: true }
  ]
});

scatterPanel({
  id: 'sddmm', box: { left: 0, top: 262, w: 415, h: 263 }, area: { l: 73.5, r: 400, t: 291.7, b: 456 }, labelLeft: 38.3, xPad: 13.9,
  x: { min: 1, max: 1e9, ticks: xTicksWide, labels: xLabelsWide },
  y: { min: 0.011, max: 1e9, ticks: sddmmYTicks, labels: sddmmYLabels },
  taco: sddmmTaco, sam: sddmmSam,
  notes: [
    { text: 'SDDMM', x: 74, y: 319.3, size: 26 },
    { text: 'TACO', x: 107.3, y: 383.3, size: 19 },
    { text: 'SAM', x: 223.3, y: 421.7, size: 19 },
    { text: nz, x: 215, y: 515, size: 20, align: 'center' },
    { text: tm, x: 31.7, y: 370, size: 20, align: 'center', up: true }
  ]
});

barPanel({
  id: 'inner', box: { left: 420, top: 250, w: 410, h: 275 }, area: { l: 517.3, r: 815, t: 298.3, b: 478.3 }, labelLeft: 482, legendLeft: 496, xPad: 1,
  y: { min: 1, max: 1e4, ticks: innerYTicks, labels: innerYLabels },
  taco: innerTaco, sam: innerSam,
  notes: [
    { text: 'Inner Product', x: 811.7, y: 326, size: 26, align: 'right' },
    { text: 'Datasets', x: 632.3, y: 523, size: 20, align: 'center' },
    { text: tm, x: 449, y: 381.7, size: 20, align: 'center', up: true }
  ]
});

barPanel({
  id: 'ttv', box: { left: 845, top: 250, w: 394, h: 275 }, area: { l: 938.3, r: 1230, t: 297.3, b: 478.3 }, labelLeft: 900, legendLeft: 911, xPad: 3.9,
  y: { min: 1, max: 1.33e5, ticks: ttvYTicks, labels: ttvYLabels },
  taco: ttvTaco, sam: ttvSam,
  notes: [
    { text: 'TTV', x: 1215, y: 326.7, size: 26, align: 'right' },
    { text: 'Datasets', x: 1065, y: 521.7, size: 20, align: 'center' },
    { text: tm, x: 877.3, y: 383.3, size: 20, align: 'center', up: true }
  ]
});
</script>
</body>
</html>
